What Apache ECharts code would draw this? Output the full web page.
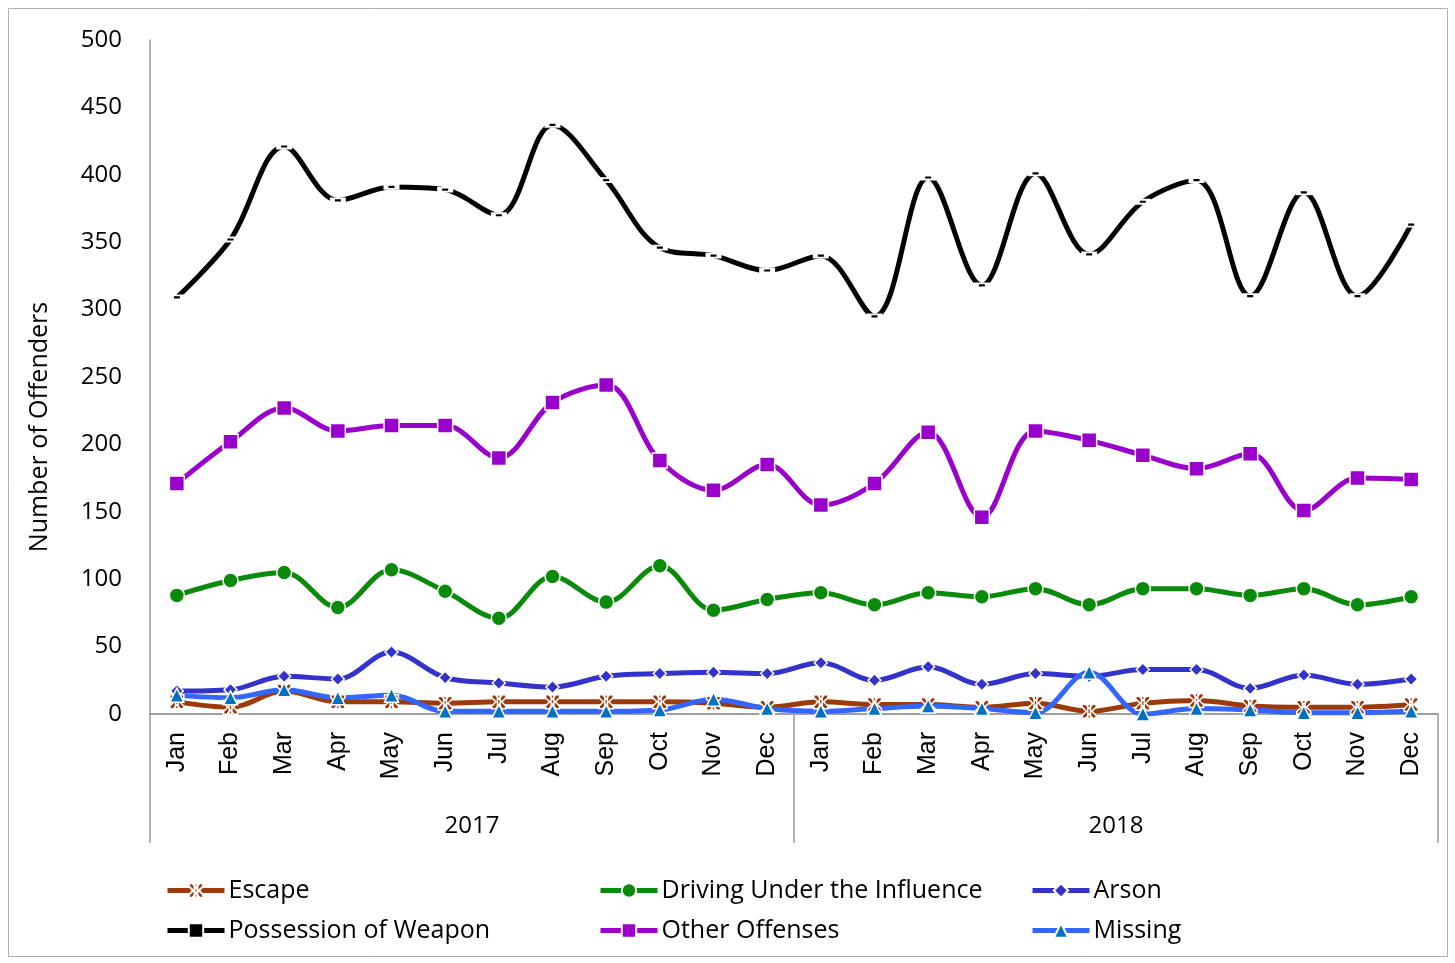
<!DOCTYPE html>
<html>
<head>
<meta charset="utf-8">
<script src="https://cdn.jsdelivr.net/npm/echarts@6/dist/echarts.min.js"></script>
<style>html,body{margin:0;padding:0;background:#fff}#c{width:1455px;height:963px}</style>
</head>
<body>
<div id="c"></div>
<script>
const months = ['Jan','Feb','Mar','Apr','May','Jun','Jul','Aug','Sep','Oct','Nov','Dec',
                'Jan','Feb','Mar','Apr','May','Jun','Jul','Aug','Sep','Oct','Nov','Dec'];
const years = ['2017','2018'];
const yTicks = {min: 0, max: 500, interval: 50};

const escape     = [9,5,17,9,9,8,9,9,9,9,8,5, 9,7,7,5,8,2,8,10,6,5,5,7];
const dui        = [88,99,105,79,107,91,71,102,83,110,77,85, 90,81,90,87,93,81,93,93,88,93,81,87];
const arson      = [17,18,28,26,46,27,23,20,28,30,31,30, 38,25,35,22,30,28,33,33,19,29,22,26];
const possession = [309,352,421,381,391,389,370,437,396,346,340,329, 340,295,398,318,401,341,380,396,310,387,310,363];
const other      = [171,202,227,210,214,214,190,231,244,188,166,185, 155,171,209,146,210,203,192,182,193,151,175,174];
const missing    = [14,12,18,12,14,2,2,2,2,3,11,4, 2,4,6,4,1,31,0,4,3,1,1,2];

const asterisk = 'path://M0,0 L2.5,0 L5,3 L7.5,0 L10,0 L10,2 L7,5 L10,8 L10,10 L7.5,10 L5,7 L2.5,10 L0,10 L0,8 L3,5 L0,2 Z M4,0 L6,0 L6,10 L4,10 Z';

const chart = echarts.init(document.getElementById('c'));
const font = 'Open Sans';
function s(name, data, color, symbol, size, extra) {
  return Object.assign({
    name, type: 'line', data, smooth: 0.35, xAxisIndex: 0,
    symbol, symbolSize: size,
    lineStyle: {color, width: 5},
    itemStyle: {color, borderColor: '#fff', borderWidth: 1.5},
    emphasis: {disabled: true},
    z: 3
  }, extra || {});
}
const series = [
  s('Escape', escape, '#9C3A0A', asterisk, 14),
  s('Driving Under the Influence', dui, '#0A8A0A', 'circle', 15),
  s('Arson', arson, '#3333CC', 'diamond', 13),
  s('Possession of Weapon', possession, '#000000', 'rect', [11, 4], {
    itemStyle: {color: '#000', borderColor: '#fff', borderWidth: 3}}),
  s('Other Offenses', other, '#9900CC', 'rect', 15),
  s('Missing', missing, '#3366FF', 'triangle', 14, {
    itemStyle: {color: '#0070C0', borderColor: '#fff', borderWidth: 1.5}})
];
const legendPos = [
  ['Escape', 165, 878], ['Driving Under the Influence', 598, 878], ['Arson', 1030, 878],
  ['Possession of Weapon', 165, 918], ['Other Offenses', 598, 918], ['Missing', 1030, 918]
];
chart.setOption({
  animation: false,
  backgroundColor: '#fff',
  graphic: [{type: 'rect', shape: {x: 8.5, y: 8.5, width: 1439, height: 948},
             style: {fill: 'none', stroke: '#b0b0b0', lineWidth: 1}}],
  grid: {left: 150, right: 17, top: 40, bottom: 249},
  legend: legendPos.map(([n, x, y]) => ({
    data: [n], left: x, top: y, padding: 0, itemWidth: 57, itemHeight: 18, itemGap: 0,
    lineStyle: {width: 5},
    textStyle: {fontFamily: font, fontSize: 25, color: '#000', padding: [0,0,0,-1]}
  })),
  xAxis: [{
    type: 'category', data: months, position: 'bottom',
    axisLine: {lineStyle: {color: '#999', width: 1.5}},
    axisTick: {show: false},
    axisLabel: {rotate: 90, margin: 18, fontFamily: 'Liberation Sans', fontSize: 25, color: '#000', interval: 0}
  }, {
    type: 'category', data: years, position: 'bottom', offset: 0,
    axisLine: {lineStyle: {color: '#999', width: 1.5}},
    axisTick: {show: true, length: 129, lineStyle: {color: '#999', width: 1.5}},
    axisLabel: {margin: 100, fontFamily: font, fontSize: 24, color: '#000'}
  }],
  yAxis: {
    type: 'value', min: yTicks.min, max: yTicks.max, interval: yTicks.interval,
    name: 'Number of Offenders', nameLocation: 'middle', nameGap: 98,
    nameTextStyle: {fontFamily: font, fontSize: 25, color: '#000', padding: [0, 100, 0, 0]},
    axisLine: {show: true, lineStyle: {color: '#999', width: 1.5}},
    axisTick: {show: false},
    splitLine: {show: false},
    axisLabel: {margin: 28, fontFamily: font, fontSize: 24, color: '#000'}
  },
  series
});
</script>
</body>
</html>
